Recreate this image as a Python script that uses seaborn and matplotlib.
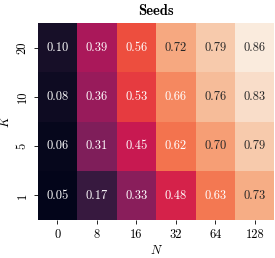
import numpy as np
import pandas as pd
import matplotlib
matplotlib.use('Agg')
import matplotlib.pyplot as plt
import seaborn as sns

# values
n_values = [0, 8, 16, 32, 64, 128]
k_values = [20, 10, 5, 1]
scores = [
    [0.10, 0.39, 0.56, 0.72, 0.79, 0.86],
    [0.08, 0.36, 0.53, 0.66, 0.76, 0.83],
    [0.06, 0.31, 0.45, 0.62, 0.70, 0.79],
    [0.05, 0.17, 0.33, 0.48, 0.63, 0.73],
]

df = pd.DataFrame(scores, index=k_values, columns=n_values)

# Computer Modern look (no LaTeX available)
plt.rcParams['font.family'] = 'cmr10'
plt.rcParams['mathtext.fontset'] = 'cm'
plt.rcParams['axes.formatter.use_mathtext'] = True

fig = plt.figure(figsize=(2.75, 2.58), dpi=100)
ax = fig.add_axes([0.137, 0.147, 0.861, 0.763])
sns.heatmap(df, annot=True, fmt='.2f', cmap='rocket', cbar=False, ax=ax,
            annot_kws={'fontsize': 9})

ax.set_title('Seeds', fontsize=10.5, family='cmb10', pad=6)
ax.set_xlabel('$N$', fontsize=9, labelpad=2)
ax.set_ylabel('$K$', fontsize=9, labelpad=3)
ax.tick_params(labelsize=9, length=3, width=0.6)
plt.setp(ax.get_yticklabels(), rotation=90, va='center')
plt.setp(ax.get_xticklabels(), rotation=0)

fig.savefig('out.png', dpi=100)
